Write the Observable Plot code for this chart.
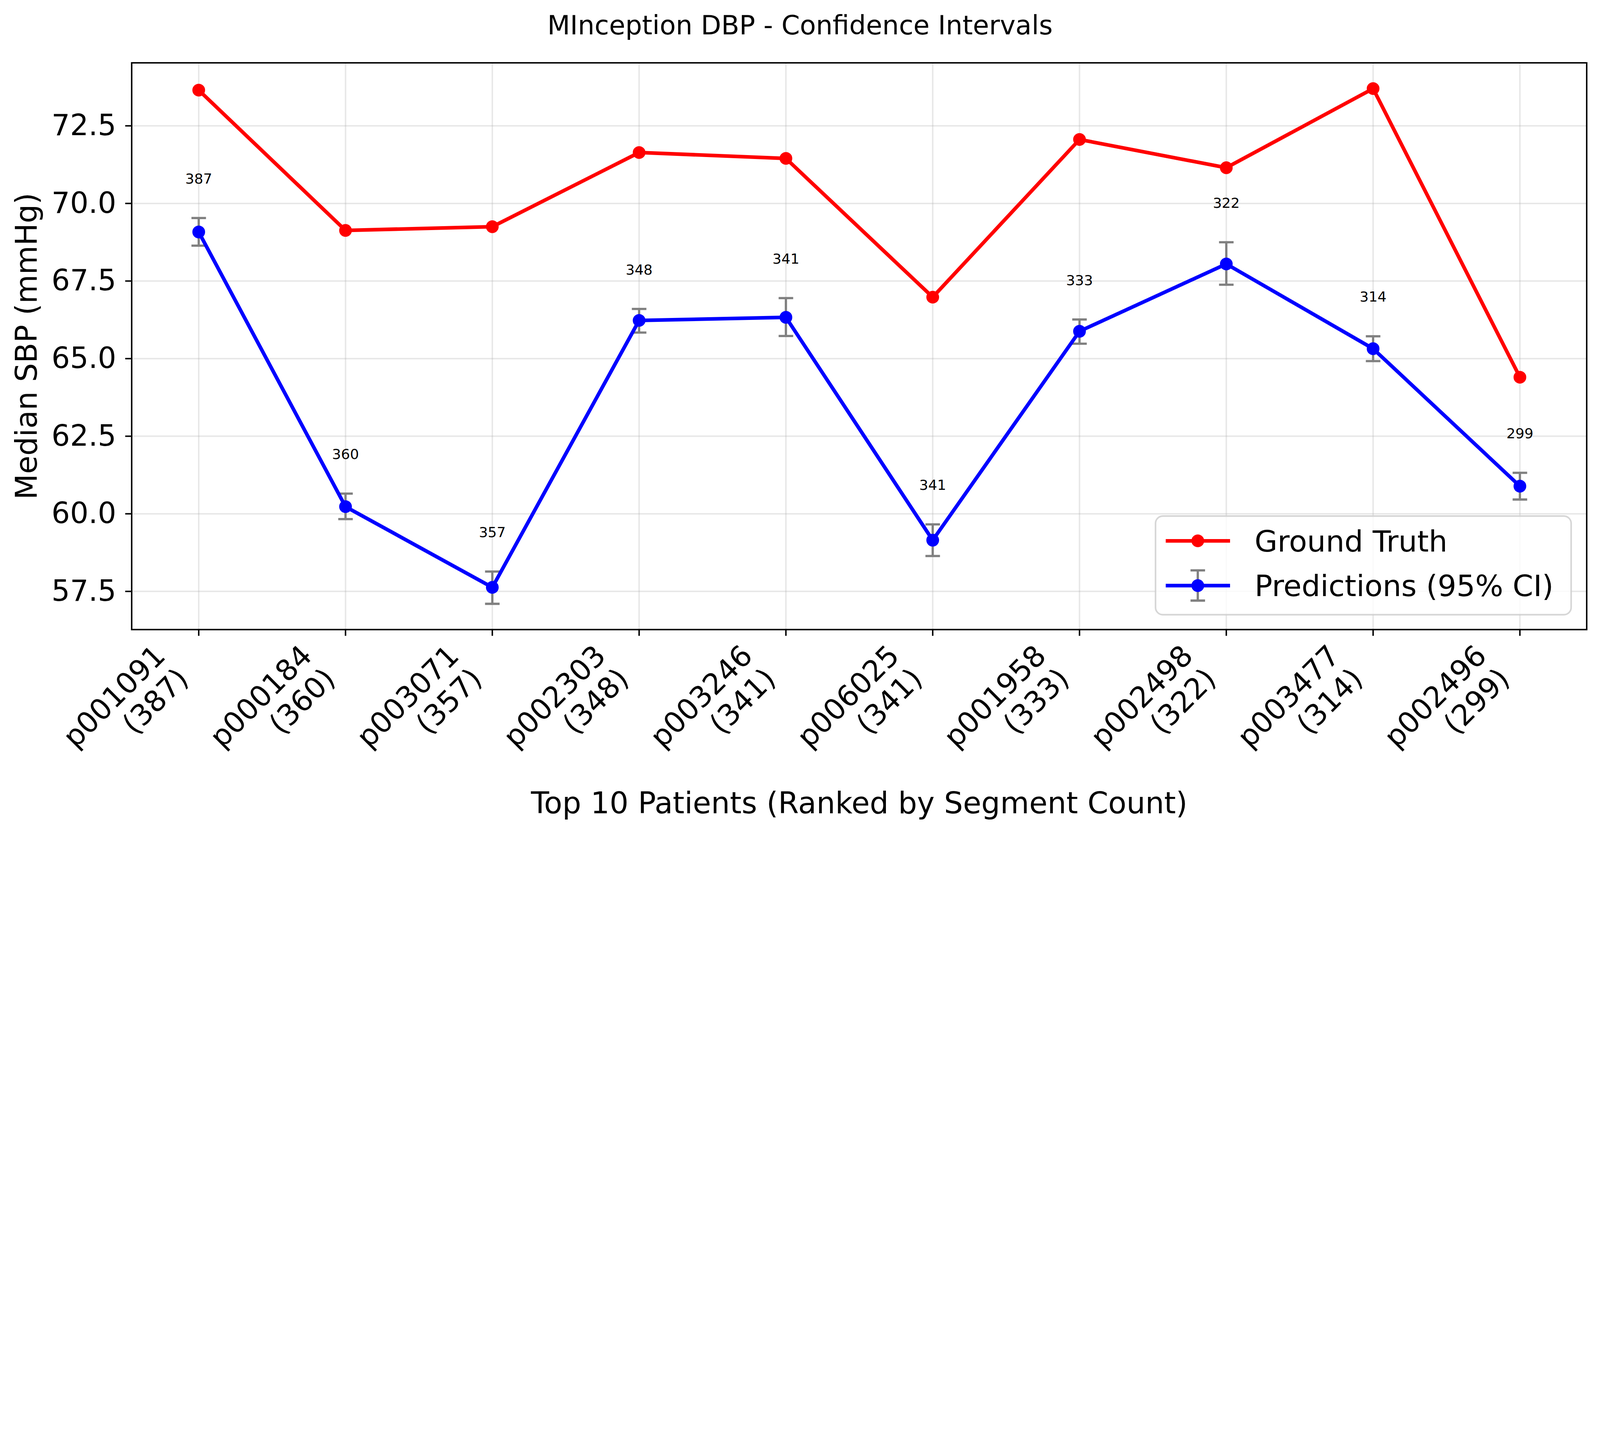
<!DOCTYPE html>
<html><head><meta charset="utf-8">
<script src="https://cdn.jsdelivr.net/npm/d3@7"></script>
<script src="https://cdn.jsdelivr.net/npm/@observablehq/plot@0.6"></script>
<style>
html,body{margin:0;padding:0;background:#fff;overflow:hidden;}
#outer{position:relative;overflow:hidden;background:#fff;}
#fig{position:absolute;left:0;top:0;width:7041px;height:3671px;font-family:"DejaVu Sans";background:#fff;overflow:hidden;transform-origin:0 0;}
#title{height:224px;line-height:224px;text-align:center;font-size:116px;color:#000;white-space:nowrap;}
#chart svg{display:block;}
#legend{position:absolute;left:0;top:0;pointer-events:none;}
</style></head><body>
<div id="outer">
<div id="fig">
  <div id="title"></div>
  <div id="chart"></div>
  <svg id="legend" width="7041" height="3671"></svg>
</div>
</div>
<script>
// ---- data ----
const patients = ["p001091","p000184","p003071","p002303","p003246","p006025","p001958","p002498","p003477","p002496"];
const segmentCounts = [387,360,357,348,341,341,333,322,314,299];
const groundTruth = [73.65,69.13,69.25,71.64,71.45,66.98,72.06,71.15,73.70,64.40];
const predictions = [69.08,60.23,57.63,66.23,66.33,59.15,65.88,68.05,65.32,60.89];
const ciLower = [68.64,59.83,57.10,65.84,65.73,58.64,65.48,67.38,64.92,60.46];
const ciUpper = [69.53,60.65,58.14,66.60,66.95,59.66,66.26,68.75,65.72,61.32];
const yTicks = [57.5,60.0,62.5,65.0,67.5,70.0,72.5];
const seriesNames = ["Ground Truth","Predictions (95% CI)"];
const seriesColors = ["#ff0000","#0000ff"];
const titleText = "MInception DBP - Confidence Intervals";
const xLabel = "Top 10 Patients (Ranked by Segment Count)";
const yLabel = "Median SBP (mmHg)";

// ---- fit the 7041x3671 figure into the viewport ----
const W = 7041, H = 3671;
const s = Math.min(window.innerWidth / W, window.innerHeight / H) || 1;
const outer = document.getElementById("outer");
outer.style.width = (W * s) + "px";
outer.style.height = (H * s) + "px";
document.getElementById("fig").style.transform = `scale(${s})`;

// ---- table ----
const rows = patients.map((id,i)=>({
  id, n: segmentCounts[i], gt: groundTruth[i], pred: predictions[i],
  lo: ciLower[i], hi: ciUpper[i], label: `${id}\n(${segmentCounts[i]})`
}));
const allY = [...groundTruth, ...ciLower, ...ciUpper];
const yMin = d3.min(allY), yMax = d3.max(allY), pad = (yMax - yMin) * 0.05;

const capSymbol = {draw(ctx, size){ const w = Math.sqrt(size/Math.PI); ctx.moveTo(-w,0); ctx.lineTo(w,0); }};
const gridStyle = {stroke:"#b0b0b0", strokeOpacity:0.3, strokeWidth:6.4};

const chart = Plot.plot({
  width: W, height: H - 224,
  marginTop: 52, marginBottom: 901, marginLeft: 579, marginRight: 59,
  style: {fontFamily:"DejaVu Sans", fontSize:"128px", background:"white", color:"black", overflow:"visible"},
  x: {type:"point", domain: patients, padding: 0.45, axis: null},
  y: {domain: [yMin - pad, yMax + pad], axis: null},
  marks: [
    Plot.gridX(patients, gridStyle),
    Plot.gridY(yTicks, gridStyle),
    Plot.axisY(yTicks, {tickSize:28, tickPadding:40, strokeWidth:6.4, tickFormat: d3.format(".1f"), fontSize:128, label:null}),
    Plot.axisX(patients, {tickSize:28, strokeWidth:6.4, tickFormat: () => "", label:null}),
    Plot.text(rows, {x:"id", text:"label", frameAnchor:"bottom", rotate:-45, textAnchor:"end", lineAnchor:"top", lineHeight:1.12, dx:-212, dy:51, fontSize:128, fill:"black"}),
    Plot.text([xLabel], {frameAnchor:"bottom", dy:809, lineAnchor:"bottom", fontSize:131, fill:"black"}),
    Plot.text([yLabel], {frameAnchor:"left", dx:-460, rotate:-90, textAnchor:"middle", lineAnchor:"middle", fontSize:131, fill:"black"}),
    Plot.line(rows, {x:"id", y:"gt", stroke: seriesColors[0], strokeWidth:16}),
    Plot.dot(rows, {x:"id", y:"gt", r:28, fill: seriesColors[0], stroke:null}),
    Plot.ruleX(rows, {x:"id", y1:"lo", y2:"hi", stroke:"gray", strokeWidth:10}),
    Plot.dot(rows, {x:"id", y:"lo", symbol: capSymbol, r:32, fill:"none", stroke:"gray", strokeWidth:10}),
    Plot.dot(rows, {x:"id", y:"hi", symbol: capSymbol, r:32, fill:"none", stroke:"gray", strokeWidth:10}),
    Plot.line(rows, {x:"id", y:"pred", stroke: seriesColors[1], strokeWidth:16}),
    Plot.dot(rows, {x:"id", y:"pred", r:28, fill: seriesColors[1], stroke:null}),
    Plot.text(rows, {x:"id", y:"hi", text: d => String(d.n), dy:-152, lineAnchor:"bottom", fontSize:62, fill:"black"}),
    Plot.frame({stroke:"black", strokeWidth:6.4})
  ]
});
document.getElementById("chart").appendChild(chart);
document.getElementById("title").textContent = titleText;

// ---- legend (overlay inside the plot frame, lower right) ----
const lg = d3.select("#legend").attr("font-family","DejaVu Sans");
lg.append("rect").attr("x",5085).attr("y",2271).attr("width",1829).attr("height",434).attr("rx",32)
  .attr("fill","white").attr("fill-opacity",0.8).attr("stroke","#cccccc").attr("stroke-opacity",0.8).attr("stroke-width",7);
seriesNames.forEach((name,i)=>{
  const cy = 2380 + i*197;
  const g = lg.append("g");
  if (i === 1) {
    g.append("line").attr("x1",5271).attr("x2",5271).attr("y1",cy-67).attr("y2",cy+66).attr("stroke","gray").attr("stroke-width",10);
    [cy-67, cy+66].forEach(yy => g.append("line").attr("x1",5239).attr("x2",5303).attr("y1",yy).attr("y2",yy).attr("stroke","gray").attr("stroke-width",10));
  }
  g.append("line").attr("x1",5130).attr("x2",5413).attr("y1",cy).attr("y2",cy).attr("stroke",seriesColors[i]).attr("stroke-width",16);
  g.append("circle").attr("cx",5271).attr("cy",cy).attr("r",28).attr("fill",seriesColors[i]);
  g.append("text").attr("x",5521).attr("y",cy+47).attr("font-size",130).attr("fill","black").text(name);
});
</script>
</body></html>
